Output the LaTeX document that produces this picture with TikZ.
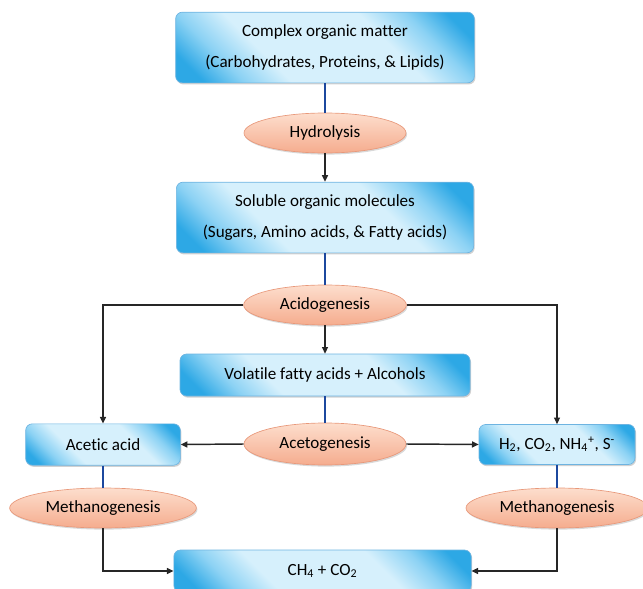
\documentclass[tikz,border=0pt]{standalone}
\usepackage{fontspec}
\setmainfont[Ligatures=NoCommon]{Carlito}
\usepackage{xcolor}
\definecolor{bxdeep}{RGB}{45,168,229}
\definecolor{bxmid}{RGB}{140,210,244}
\definecolor{bxlight}{RGB}{214,240,252}
\definecolor{bxedge}{RGB}{110,180,225}
\definecolor{elldark}{RGB}{245,172,142}
\definecolor{elllight}{RGB}{253,222,205}
\definecolor{elledge}{RGB}{232,152,122}
\definecolor{linkblue}{RGB}{28,72,158}
\usetikzlibrary{arrows.meta, shapes.geometric, shadows}
\pgfdeclareverticalshading{boxshade}{100bp}{color(0bp)=(bxdeep); color(20bp)=(bxdeep);
  color(28bp)=(bxmid); color(37bp)=(bxlight); color(63bp)=(bxlight); color(72bp)=(bxmid); color(80bp)=(bxdeep); color(100bp)=(bxdeep)}

\begin{document}
\begin{tikzpicture}[x=0.75pt, y=-0.75pt,
  every node/.style={font=\fontsize{12.8}{14}\selectfont, text=black},
  stagebox/.style={draw=bxedge, line width=0.5pt, rounded corners=5pt,
    shading=boxshade, shading angle=-45,
    drop shadow={shadow xshift=0.8pt, shadow yshift=-1.2pt, opacity=0.3, fill=black!60},
    align=center, inner sep=0pt},
  procell/.style={ellipse, draw=elledge, line width=0.5pt,
    top color=elllight, bottom color=elldark,
    drop shadow={shadow xshift=0.8pt, shadow yshift=-1.2pt, opacity=0.25, fill=black!60},
    inner sep=0pt, minimum height=30pt},
  link/.style={linkblue, line width=1.1pt},
  arr/.style={black!85, line width=1.1pt, -{Triangle[length=5pt, width=4.5pt]}},
]

\useasboundingbox (0,0) rectangle (643,589);

% === Central column ===
\node[stagebox, minimum width=224pt, minimum height=53pt] (com) at (325,47.5)
     {Complex organic matter\\[9pt](Carbohydrates, Proteins, \& Lipids)};
\node[procell, minimum width=121.5pt] (hyd) at (325,133) {Hydrolysis};
\node[stagebox, minimum width=223pt, minimum height=53pt] (sol) at (325,217.5)
     {Soluble organic molecules\\[9pt](Sugars, Amino acids, \& Fatty acids)};
\node[procell, minimum width=122pt] (aci) at (325,305) {Acidogenesis};
\node[stagebox, minimum width=217.5pt, minimum height=31.5pt] (vol) at (325,375)
     {Volatile fatty acids + Alcohols};
\node[procell, minimum width=121.5pt, minimum height=31.5pt] (act) at (325,444) {Acetogenesis};

% === Side products ===
\node[stagebox, minimum width=116pt, minimum height=31pt] (ace) at (103,444.5) {Acetic acid};
\node[stagebox, minimum width=117pt, minimum height=30pt] (hco) at (557,444.5)
     {H\textsubscript{2}, CO\textsubscript{2}, NH\textsubscript{4}\textsuperscript{+}, S\textsuperscript{-}};

% === Methanogenesis ===
\node[procell, minimum width=140pt] (mel) at (103,508) {Methanogenesis};
\node[procell, minimum width=136.5pt] (mer) at (557,508) {Methanogenesis};
\node[stagebox, minimum width=223pt, minimum height=31.5pt] (chf) at (322.5,571)
     {CH\textsubscript{4} + CO\textsubscript{2}};

% === Connectors ===
\draw[link] (com.south) -- (hyd.north);
\draw[arr] (hyd.south) -- (sol.north);
\draw[link] (sol.south) -- (aci.north);
\draw[arr] (aci.south) -- (vol.north);
\draw[arr] (aci.west) -| (ace.north);
\draw[arr] (aci.east) -| (hco.north);
\draw[link] (vol.south) -- (act.north);
\draw[arr] (act.west) -- (ace.east);
\draw[arr] (act.east) -- (hco.west);
\draw[link] (ace.south) -- (mel.north);
\draw[link] (hco.south) -- (mer.north);
\draw[arr] (mel.south) |- (chf.west);
\draw[arr] (mer.south) |- (chf.east);

\end{tikzpicture}
\end{document}
